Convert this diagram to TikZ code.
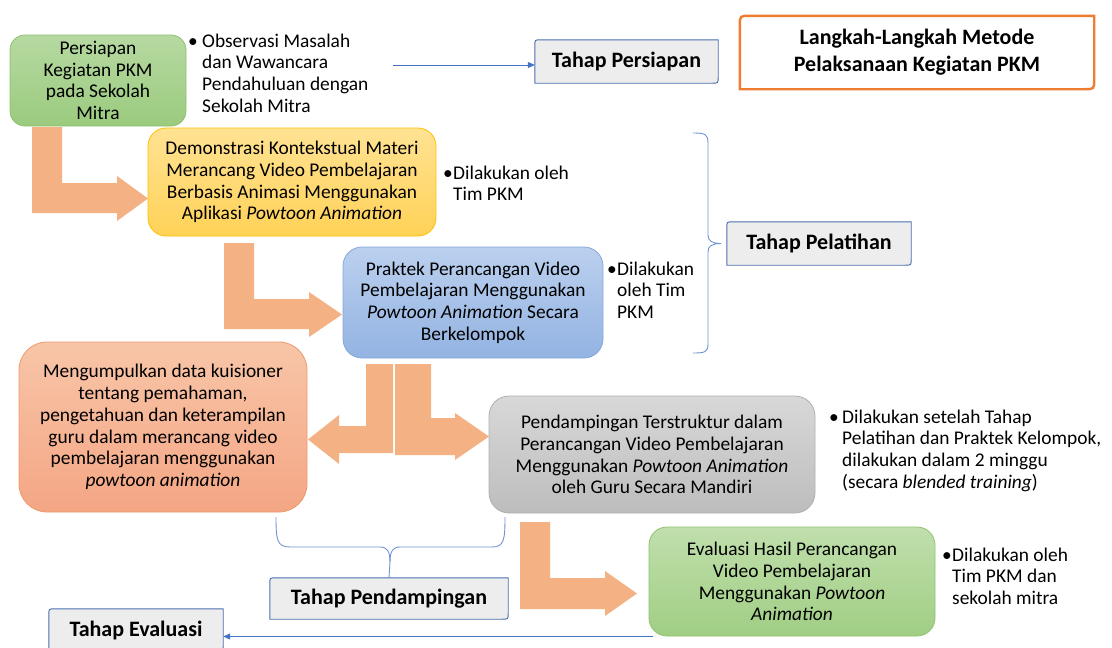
\documentclass[tikz,border=0pt]{standalone}
\usepackage{fontspec}
\setmainfont{Carlito}
\usetikzlibrary{arrows.meta,backgrounds}
\newcommand\bodyfont{\fontsize{19.4}{21.7}\selectfont}
\newcommand\labfont{\fontsize{22}{26}\selectfont\bfseries}
\newcommand\titfont{\fontsize{22}{27}\selectfont\bfseries}
\definecolor{arrowc}{HTML}{F4B183}
\definecolor{lineblue}{HTML}{4472C4}
\definecolor{bracec}{HTML}{6E93D3}
\definecolor{labfill}{HTML}{EDEDED}
\definecolor{labdraw}{HTML}{4A6FB0}
\definecolor{orangeT}{HTML}{ED7D31}
\definecolor{gAt}{HTML}{B6D9A2}\definecolor{gAb}{HTML}{9BCB7E}\definecolor{gAd}{HTML}{8FC271}
\definecolor{yt}{HTML}{FFE293}\definecolor{yb}{HTML}{FFD257}\definecolor{yd}{HTML}{FFC000}
\definecolor{bt}{HTML}{BBD0EE}\definecolor{bb}{HTML}{93B3E2}\definecolor{bd}{HTML}{86A8DA}
\definecolor{st}{HTML}{F8C5A8}\definecolor{sb}{HTML}{F4A684}\definecolor{sd}{HTML}{EE9A6A}
\definecolor{grt}{HTML}{D8D8D8}\definecolor{grb}{HTML}{BDBDBD}\definecolor{grd}{HTML}{B0B0B0}
\definecolor{gBt}{HTML}{C0DFAC}\definecolor{gBb}{HTML}{A0CE84}
\newcommand\diagframe[2]{%
  \begin{scope}[on background layer]
  \draw[tframe] ([yshift=-#2]#1.north west) .. controls (#1.north west) .. ([xshift=#2]#1.north west)
    -- (#1.north east) -- ([yshift=#2]#1.south east) .. controls (#1.south east) .. ([xshift=-#2]#1.south east)
    -- (#1.south west) -- cycle;
  \end{scope}}
\begin{document}
\begin{tikzpicture}[x=1pt,y=-1pt,
  box/.style={rounded corners=#1, draw, line width=0.8pt, align=center, inner sep=0pt, font=\bodyfont, text=black},
  tlabel/.style={inner sep=0pt, font=\labfont, text=black},
  tframe/.style={draw=labdraw, fill=labfill, line width=0.9pt},
  note/.style={inner sep=0pt, font=\bodyfont, text=black, anchor=base west},
  bigarrow/.style={fill=arrowc, draw=none},
  thinarrow/.style={draw=lineblue, line width=0.8pt, -{Triangle[length=7pt,width=6pt]}},
  bracestyle/.style={draw=bracec, line width=0.9pt}]
\useasboundingbox (0,0) rectangle (1112,648);
\clip (0,0) rectangle (1112,648);

% big bent arrows
\path[bigarrow] (32,127) -- (62,127) -- (62,183) -- (117,183) -- (117,176) -- (148,198.5) -- (117,221) -- (117,213) -- (32,213) -- cycle;
\path[bigarrow] (224,243) -- (254,243) -- (254,299) -- (309,299) -- (309,292) -- (342,314.5) -- (309,337) -- (309,329) -- (224,329) -- cycle;
\path[bigarrow] (393,364) -- (366,364) -- (366,426) -- (339,426) -- (339,415) -- (308,439.5) -- (339,464) -- (339,453) -- (393,453) -- cycle;
\path[bigarrow] (395,364) -- (431,364) -- (431,418) -- (455,418) -- (455,413) -- (489,436.5) -- (455,460) -- (455,455) -- (395,455) -- cycle;
\path[bigarrow] (520,522) -- (550,522) -- (550,578) -- (605,578) -- (605,571) -- (637,593.5) -- (605,616) -- (605,609) -- (520,609) -- cycle;

% main boxes
\node[box=15pt, draw=gAd, top color=gAt, bottom color=gAb, minimum width=176pt, minimum height=91pt] (prep) at (98,80.5)
  {Persiapan\\Kegiatan PKM\\pada Sekolah\\Mitra};
\node[box=18pt, draw=yd, top color=yt, bottom color=yb, minimum width=288pt, minimum height=108pt] (demo) at (292,182)
  {Demonstrasi Kontekstual Materi\\Merancang Video Pembelajaran\\Berbasis Animasi Menggunakan\\Aplikasi \textit{Powtoon Animation}};
\node[box=19pt, draw=bd, top color=bt, bottom color=bb, minimum width=260pt, minimum height=111pt] (prak) at (473,302.5)
  {Praktek Perancangan Video\\Pembelajaran Menggunakan\\\textit{Powtoon Animation} Secara\\Berkelompok};
\node[box=28pt, draw=sd, top color=st, bottom color=sb, minimum width=288pt, minimum height=170pt] (kumpul) at (163,427)
  {Mengumpulkan data kuisioner\\tentang pemahaman,\\pengetahuan dan keterampilan\\guru dalam merancang video\\pembelajaran menggunakan\\\textit{powtoon animation}};
\node[box=20pt, draw=grd, top color=grt, bottom color=grb, minimum width=326pt, minimum height=117pt] (pend) at (652,454.5)
  {Pendampingan Terstruktur dalam\\Perancangan Video Pembelajaran\\Menggunakan \textit{Powtoon Animation}\\oleh Guru Secara Mandiri};
\node[box=18pt, draw=gAd, top color=gBt, bottom color=gBb, minimum width=286pt, minimum height=109pt] (eval) at (792,581.5)
  {Evaluasi Hasil Perancangan\\Video Pembelajaran\\Menggunakan \textit{Powtoon}\\\textit{Animation}};

% title
\node[inner sep=0pt, minimum width=354pt, minimum height=73pt, font=\titfont, align=center, text=black] (title) at (917,52.5)
  {Langkah-Langkah Metode\\Pelaksanaan Kegiatan PKM};
\draw[draw=orangeT, line width=2.4pt] ([yshift=-10pt]title.north west) .. controls (title.north west) .. ([xshift=10pt]title.north west)
    -- (title.north east) -- ([yshift=10pt]title.south east) .. controls (title.south east) .. ([xshift=-10pt]title.south east)
    -- (title.south west) -- cycle;

% stage labels
\node[tlabel, minimum width=183pt, minimum height=43pt] (tpers) at (626.5,61.5) {Tahap Persiapan};
\diagframe{tpers}{6pt}
\node[tlabel, minimum width=184pt, minimum height=43pt] (tpel) at (819,243.5) {Tahap Pelatihan};
\diagframe{tpel}{6pt}
\node[tlabel, minimum width=238pt, minimum height=41pt] (tpend) at (389,598.5) {Tahap Pendampingan};
\diagframe{tpend}{6pt}
\node[tlabel, minimum width=174pt, minimum height=43pt] (teval) at (136,630.5) {Tahap Evaluasi};
\diagframe{teval}{6pt}

% bullet notes
\node[note] (n1) at (188,47) {\begin{tabular}[t]{@{}l@{}l@{}}\makebox[14pt][l]{\textbullet}&Observasi Masalah\\&dan Wawancara\\&Pendahuluan dengan\\&Sekolah Mitra\end{tabular}};
\node[note] (n2) at (443,179) {\begin{tabular}[t]{@{}l@{}l@{}}\makebox[10pt][l]{\textbullet}&Dilakukan oleh\\&Tim PKM\end{tabular}};
\node[note] (n3) at (607,275) {\begin{tabular}[t]{@{}l@{}l@{}}\makebox[10pt][l]{\textbullet}&Dilakukan\\&oleh Tim\\&PKM\end{tabular}};
\node[note] (n4) at (829,423) {\begin{tabular}[t]{@{}l@{}l@{}}\makebox[13pt][l]{\textbullet}&Dilakukan setelah Tahap\\&Pelatihan dan Praktek Kelompok,\\&dilakukan dalam 2 minggu\\&(secara \textit{blended training})\end{tabular}};
\node[note] (n5) at (942,561) {\begin{tabular}[t]{@{}l@{}l@{}}\makebox[10pt][l]{\textbullet}&Dilakukan oleh\\&Tim PKM dan\\&sekolah mitra\end{tabular}};

% thin arrows
\coordinate (a1start) at (393,65);
\draw[thinarrow] (a1start) -- (tpers.west |- a1start);
\coordinate (a2start) at (653,636.5);
\draw[thinarrow] (a2start) -- (teval.east |- a2start);

% braces
\coordinate (b1tip) at (721,243.5);
\draw[bracestyle] (693,133) .. controls (705,133) and (708,134) .. (708,143) -- (708,235)
  .. controls (708,241) and (712,243.5) .. (b1tip)
  .. controls (712,243.5) and (708,246) .. (708,252) -- (708,344)
  .. controls (708,352) and (705,353) .. (693,353);
\coordinate (b2mid) at (390,562);
\draw[bracestyle] (276,517) .. controls (276,540) and (277,547) .. (290,547) -- (380,547)
  .. controls (387,547) and (390,551) .. (b2mid) -- (tpend.north);
\draw[bracestyle] (505,517) .. controls (505,540) and (504,547) .. (492,547) -- (400,547)
  .. controls (393,547) and (390,551) .. (b2mid);
\end{tikzpicture}
\end{document}
